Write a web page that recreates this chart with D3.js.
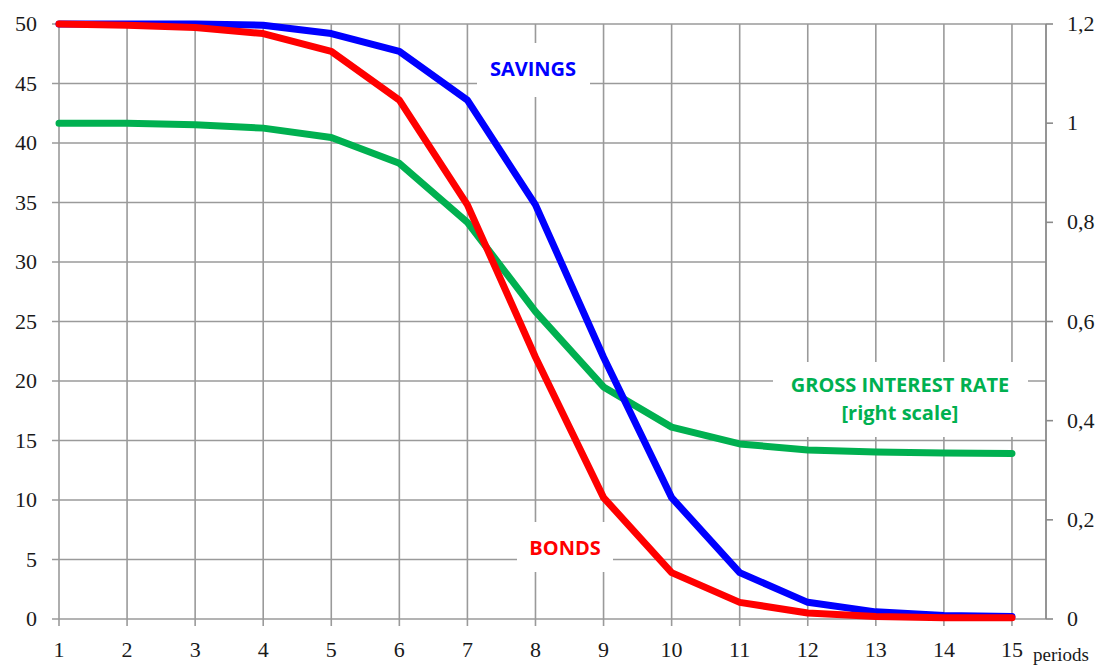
<!DOCTYPE html>
<html>
<head>
<meta charset="utf-8">
<script src="https://cdn.jsdelivr.net/npm/d3@7"></script>
<style>
  body { margin: 0; background: #fff; }
  svg { display: block; }
</style>
</head>
<body>
<div id="chart"></div>
<script>
// Periods 1..15; savings and bonds on the left scale, gross interest rate on the right.
const periods = [1, 2, 3, 4, 5, 6, 7, 8, 9, 10, 11, 12, 13, 14, 15];
const savings = [50, 50, 50, 49.9, 49.2, 47.7, 43.6, 34.8, 22, 10.2, 3.9, 1.4, 0.6, 0.3, 0.2];
const bonds = [50, 49.9, 49.7, 49.2, 47.7, 43.6, 34.8, 22, 10.2, 3.9, 1.4, 0.5, 0.2, 0.1, 0.1];
const grossRate = [1.0, 1.0, 0.997, 0.99, 0.971, 0.919, 0.80, 0.62, 0.468, 0.387, 0.353, 0.341, 0.337, 0.335, 0.334];
const leftTicks = [0, 5, 10, 15, 20, 25, 30, 35, 40, 45, 50];
const rightTicks = [0, 0.2, 0.4, 0.6, 0.8, 1, 1.2];

const width = 1103, height = 665;
const m = { top: 24, right: 57, bottom: 46, left: 59 };
const iW = width - m.left - m.right;
const iH = height - m.top - m.bottom;

const SERIF = "'Liberation Serif', 'Times New Roman', 'DejaVu Serif', serif";
const SANS = "'Open Sans', 'Noto Sans', sans-serif";

const x = d3.scaleLinear([1, 15.5], [0, iW]);
const yL = d3.scaleLinear([0, 50], [iH, 0]);
const yR = d3.scaleLinear([0, 1.2], [iH, 0]);

const svg = d3.select("#chart").append("svg")
  .attr("width", width).attr("height", height);
const g = svg.append("g").attr("transform", `translate(${m.left},${m.top})`);

const gridColor = "#9a9a9a";

// Grid.
g.append("g").selectAll("line").data(leftTicks).join("line")
  .attr("x1", -7).attr("x2", iW).attr("y1", (d) => yL(d)).attr("y2", (d) => yL(d))
  .attr("stroke", gridColor).attr("stroke-width", 1.6);
g.append("g").selectAll("line").data(periods).join("line")
  .attr("x1", (d) => x(d)).attr("x2", (d) => x(d)).attr("y1", 0).attr("y2", iH + 7)
  .attr("stroke", gridColor).attr("stroke-width", 1.6);

// Right axis line + ticks.
g.append("line").attr("x1", iW).attr("x2", iW).attr("y1", 0).attr("y2", iH)
  .attr("stroke", "#8a8a8a").attr("stroke-width", 1.8);
g.append("g").selectAll("line").data(rightTicks).join("line")
  .attr("x1", iW).attr("x2", iW + 7).attr("y1", (d) => yR(d)).attr("y2", (d) => yR(d))
  .attr("stroke", "#8a8a8a").attr("stroke-width", 1.6);

// Label boxes hide the grid behind them.
function labelBox(x0, y0, w, h) {
  g.append("rect").attr("x", x0 - m.left).attr("y", y0 - m.top)
    .attr("width", w).attr("height", h).attr("fill", "#fff");
}
labelBox(477, 43, 113, 54);
labelBox(517, 522, 96, 50);
labelBox(773, 362, 255, 75);

// Series.
const lineL = d3.line().x((d, i) => x(periods[i])).y((d) => yL(d));
const lineR = d3.line().x((d, i) => x(periods[i])).y((d) => yR(d));
const series = [
  { data: grossRate, gen: lineR, color: "#00b050" },
  { data: savings, gen: lineL, color: "#0000ff" },
  { data: bonds, gen: lineL, color: "#ff0000" }
];
series.forEach((s) => {
  g.append("path").datum(s.data).attr("d", s.gen)
    .attr("fill", "none").attr("stroke", s.color).attr("stroke-width", 7)
    .attr("stroke-linejoin", "round").attr("stroke-linecap", "round");
});

// Tick labels.
function tickText(sel) {
  sel.attr("font-family", SERIF).attr("font-size", 22).attr("fill", "#1a1a1a");
}
g.append("g").selectAll("text").data(leftTicks).join("text")
  .call(tickText).attr("text-anchor", "end")
  .attr("x", -22).attr("y", (d) => yL(d) + 7).text((d) => d);
g.append("g").selectAll("text").data(rightTicks).join("text")
  .call(tickText).attr("text-anchor", "start")
  .attr("x", iW + 21).attr("y", (d) => yR(d) + 7)
  .text((d) => String(d).replace(".", ","));
g.append("g").selectAll("text").data(periods).join("text")
  .call(tickText).attr("text-anchor", "middle")
  .attr("x", (d) => x(d)).attr("y", iH + 38).text((d) => d);
svg.append("text").call(tickText).attr("font-size", 19)
  .attr("x", 1033).attr("y", 661).text("periods");

// Series labels.
function seriesText(sel, color) {
  sel.attr("font-family", SANS).attr("font-weight", 700).attr("font-size", 20)
    .attr("fill", color).attr("text-anchor", "middle");
}
svg.append("text").call(seriesText, "#0000ff").attr("x", 533).attr("y", 76).text("SAVINGS");
svg.append("text").call(seriesText, "#ff0000").attr("x", 565).attr("y", 555).text("BONDS");
svg.append("text").call(seriesText, "#00b050").attr("x", 900).attr("y", 392).text("GROSS INTEREST RATE");
svg.append("text").call(seriesText, "#00b050").attr("x", 900).attr("y", 420).text("[right scale]");
</script>
</body>
</html>
